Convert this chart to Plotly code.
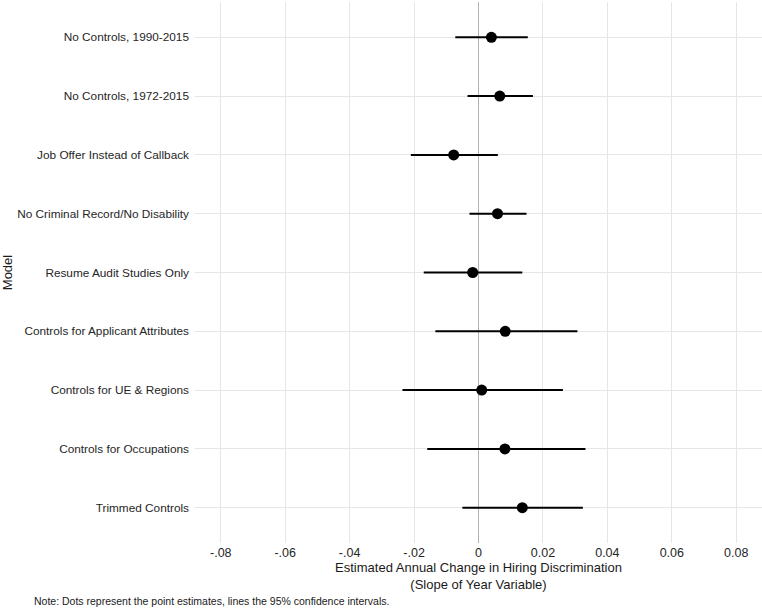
import plotly.graph_objects as go

models = [
    "No Controls, 1990-2015",
    "No Controls, 1972-2015",
    "Job Offer Instead of Callback",
    "No Criminal Record/No Disability",
    "Resume Audit Studies Only",
    "Controls for Applicant Attributes",
    "Controls for UE & Regions",
    "Controls for Occupations",
    "Trimmed Controls",
]
estimates = [0.0040, 0.0066, -0.0077, 0.0059, -0.0018, 0.0083, 0.0010, 0.0082, 0.0136]
ci_low = [-0.0072, -0.0034, -0.0210, -0.0028, -0.0170, -0.0134, -0.0236, -0.0159, -0.0050]
ci_high = [0.0153, 0.0169, 0.0060, 0.0149, 0.0136, 0.0307, 0.0262, 0.0332, 0.0324]

tick_vals = [-0.08, -0.06, -0.04, -0.02, 0, 0.02, 0.04, 0.06, 0.08]
tick_text = ["-.08", "-.06", "-.04", "-.02", "0", "0.02", "0.04", "0.06", "0.08"]

plus = [h - e for h, e in zip(ci_high, estimates)]
minus = [e - l for e, l in zip(estimates, ci_low)]

fig = go.Figure()
fig.add_trace(go.Scatter(
    x=estimates, y=models, mode="markers",
    marker=dict(color="black", size=11),
    error_x=dict(type="data", array=plus, arrayminus=minus,
                 color="black", thickness=2, width=0, symmetric=False),
    showlegend=False,
))

font_family = "Liberation Sans, Arial, sans-serif"
fig.update_layout(
    width=762, height=609,
    margin=dict(l=195, r=0, t=2, b=66),
    plot_bgcolor="white", paper_bgcolor="white",
    font=dict(family=font_family, color="#1a1a1a", size=12),
    xaxis=dict(
        range=[-0.088, 0.088],
        tickvals=tick_vals, ticktext=tick_text,
        showgrid=True, gridcolor="#e6e6e6", gridwidth=1,
        zeroline=True, zerolinecolor="#b3b3b3", zerolinewidth=1,
        showline=False, ticks="",
        tickfont=dict(size=12.5, color="#262626"),
        title=dict(text="Estimated Annual Change in Hiring Discrimination<br>(Slope of Year Variable)",
                   font=dict(size=13, color="#1a1a1a"), standoff=4),
    ),
    yaxis=dict(
        categoryorder="array", categoryarray=models,
        range=[8.6, -0.6],
        showgrid=True, gridcolor="#e6e6e6", gridwidth=1,
        showline=False, ticks="", ticklen=0,
        ticklabelstandoff=5,
        tickfont=dict(size=11.8, color="#262626"),
        title=dict(text="Model", font=dict(size=13, color="#1a1a1a"), standoff=6),
    ),
    annotations=[dict(
        text="Note: Dots represent the point estimates, lines the 95% confidence intervals.",
        xref="paper", yref="paper", x=(32 - 195) / 567, y=-(601 - 543) / 541,
        xanchor="left", yanchor="middle", showarrow=False,
        font=dict(size=10.5, color="#1a1a1a"),
    )],
)

fig.write_html("out.html", config={"displayModeBar": False},
               post_script="document.body.style.margin='0px';document.body.style.overflow='hidden';")
